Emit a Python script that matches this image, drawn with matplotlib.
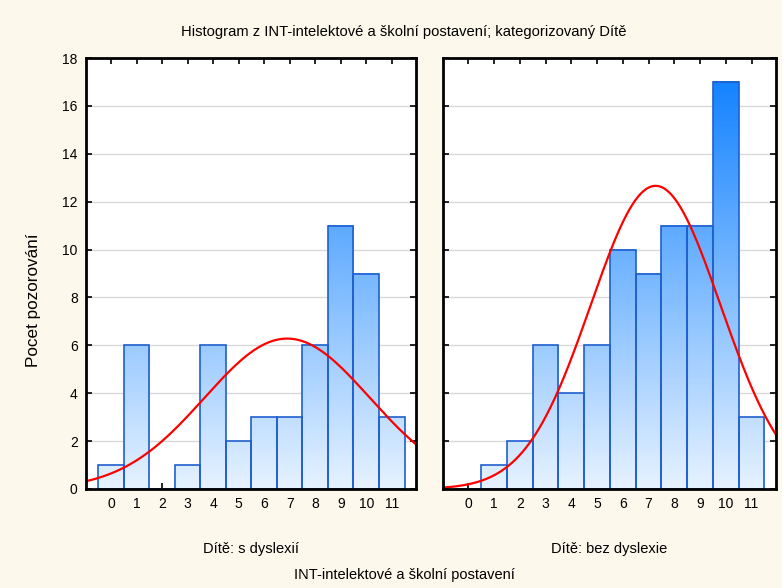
import numpy as np
import matplotlib
matplotlib.use("Agg")
import matplotlib.pyplot as plt
from matplotlib.colors import LinearSegmentedColormap

plt.rcParams['font.family'] = ['Liberation Sans', 'DejaVu Sans']

scores = list(range(12))
tick_labels = [str(s) for s in scores]
counts_s_dyslexii = [1, 6, 0, 1, 6, 2, 3, 3, 6, 11, 9, 3]
counts_bez_dyslexie = [0, 1, 2, 6, 4, 6, 10, 9, 11, 11, 17, 3]
panel_titles = ["Dítě: s dyslexií", "Dítě: bez dyslexie"]
title = "Histogram z INT-intelektové a školní postavení; kategorizovaný Dítě"
xlabel = "INT-intelektové a školní postavení"
ylabel = "Pocet pozorování"

bg = "#fdf8ec"
cmap = LinearSegmentedColormap.from_list("bars", ["#e6f2ff", "#1483ff"])
vmax = 17.0

fig = plt.figure(figsize=(7.82, 5.88), dpi=100, facecolor=bg)
W, H = 782, 588
def ax_rect(x0, x1, ytop, ybot):
    return [x0 / W, (H - ybot) / H, (x1 - x0) / W, (ybot - ytop) / H]

ax1 = fig.add_axes(ax_rect(86, 416, 58, 489))
ax2 = fig.add_axes(ax_rect(443, 776, 58, 489))

xs_curve = np.linspace(-1.0, 12.0, 400)

for i, (ax, counts) in enumerate([(ax1, counts_s_dyslexii), (ax2, counts_bez_dyslexie)]):
    ax.set_facecolor("white")
    ax.set_xlim(-0.98, 11.95)
    ax.set_ylim(0, 18)
    ax.set_yticks(range(0, 19, 2))
    ax.set_xticks(scores)
    ax.set_xticklabels(tick_labels)
    ax.grid(axis='y', color='#d9d9d9', linewidth=1.0, zorder=0)
    ax.set_axisbelow(True)
    for x, c in zip(scores, counts):
        if c > 0:
            grad = np.linspace(0, c / vmax, 256).reshape(-1, 1)
            ax.imshow(grad, extent=(x - 0.5, x + 0.5, 0, c), origin='lower',
                      cmap=cmap, vmin=0, vmax=1, aspect='auto', zorder=2,
                      interpolation='bilinear')
    ax.bar(scores, counts, width=1.0, facecolor='none', edgecolor='#1f5fd0',
           linewidth=1.2, zorder=3)
    arr = np.array(counts, dtype=float)
    xv = np.array(scores, dtype=float)
    n = arr.sum()
    mu = (arr * xv).sum() / n
    sd = np.sqrt((arr * (xv - mu) ** 2).sum() / (n - 1))
    ycurve = n / (np.sqrt(2 * np.pi) * sd) * np.exp(-0.5 * ((xs_curve - mu) / sd) ** 2)
    ax.plot(xs_curve, ycurve, color='#ff0000', linewidth=1.6, zorder=4, clip_on=True)
    ax.set_xlim(-0.98, 11.95)
    ax.set_ylim(0, 18)
    ax.tick_params(direction='in', length=4, width=1.2, top=True, right=True,
                   labelsize=10, colors='black', pad=6)
    ax.tick_params(axis='x', labeltop=False)
    if i == 1:
        ax.tick_params(axis='y', labelleft=False)
    for sp in ax.spines.values():
        sp.set_linewidth(2)
        sp.set_color('black')
        sp.set_zorder(5)

fig.text(404 / W, 1 - 32 / H, title, ha='center', va='center', fontsize=10.6)
fig.text(251 / W, 1 - 549 / H, panel_titles[0], ha='center', va='center', fontsize=10.5)
fig.text(609 / W, 1 - 549 / H, panel_titles[1], ha='center', va='center', fontsize=10.5)
fig.text(404 / W, 1 - 575 / H, xlabel, ha='center', va='center', fontsize=10.5)
fig.text(34 / W, 1 - 300 / H, ylabel, ha='center', va='center', rotation=90, fontsize=12.3)

fig.savefig("out.png", dpi=100, facecolor=bg)
